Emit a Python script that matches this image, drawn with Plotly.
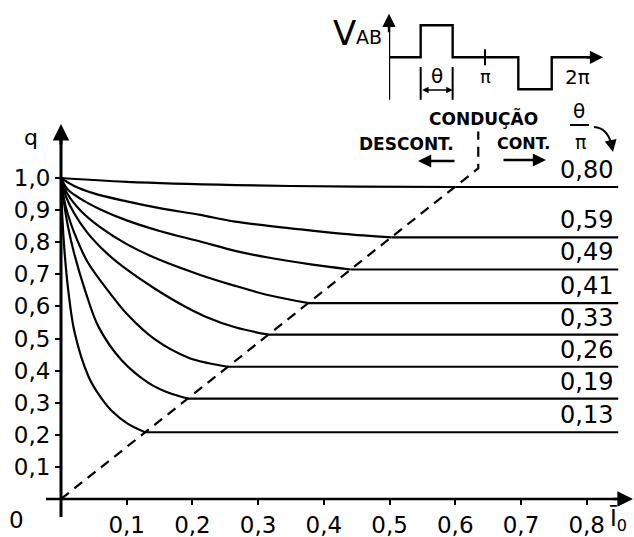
import plotly.graph_objects as go

# ---------------- data ----------------
ratio_labels = ["0,80", "0,59", "0,49", "0,41", "0,33", "0,26", "0,19", "0,13"]

I_080 = [0, 0.10, 0.265, 0.45, 0.60]
q_080 = [1.0, 0.988, 0.978, 0.973, 0.972]
I_059 = [0, 0.02, 0.05, 0.10, 0.15, 0.212, 0.265, 0.364, 0.43, 0.503]
q_059 = [1.0, 0.975, 0.952, 0.927, 0.906, 0.885, 0.864, 0.840, 0.826, 0.815]
I_049 = [0, 0.01, 0.03, 0.06, 0.10, 0.15, 0.212, 0.265, 0.313, 0.38, 0.441]
q_049 = [1.0, 0.965, 0.935, 0.902, 0.868, 0.835, 0.802, 0.773, 0.753, 0.731, 0.715]
I_041 = [0, 0.01, 0.03, 0.06, 0.10, 0.15, 0.212, 0.265, 0.32, 0.377]
q_041 = [1.0, 0.95, 0.898, 0.846, 0.794, 0.745, 0.698, 0.664, 0.633, 0.61]
I_033 = [0, 0.008, 0.02, 0.04, 0.07, 0.10, 0.143, 0.19, 0.22, 0.265, 0.316]
q_033 = [1.0, 0.94, 0.89, 0.83, 0.765, 0.715, 0.655, 0.598, 0.568, 0.535, 0.512]
I_026 = [0, 0.005, 0.01, 0.02, 0.04, 0.075, 0.10, 0.143, 0.194, 0.225, 0.254]
q_026 = [1.0, 0.93, 0.89, 0.83, 0.74, 0.64, 0.577, 0.497, 0.44, 0.423, 0.412]
I_019 = [0, 0.004, 0.01, 0.02, 0.0365, 0.057, 0.092, 0.133, 0.165, 0.193]
q_019 = [1.0, 0.93, 0.855, 0.765, 0.651, 0.537, 0.433, 0.362, 0.330, 0.313]
I_013 = [0, 0.002, 0.005, 0.011, 0.021, 0.042, 0.06, 0.077, 0.102, 0.128]
q_013 = [1.0, 0.88, 0.78, 0.651, 0.516, 0.381, 0.318, 0.275, 0.234, 0.208]

curves_I = [I_080, I_059, I_049, I_041, I_033, I_026, I_019, I_013]
curves_q = [q_080, q_059, q_049, q_041, q_033, q_026, q_019, q_013]
q_flat = [0.972, 0.815, 0.715, 0.61, 0.512, 0.412, 0.313, 0.208]
I_right = 0.848

boundary_I = [0, 0.635, 0.635]
boundary_q = [0, 1.03, 1.145]

x_ticks = [0.1, 0.2, 0.3, 0.4, 0.5, 0.6, 0.7, 0.8]
x_tick_text = ["0,1", "0,2", "0,3", "0,4", "0,5", "0,6", "0,7", "0,8"]
y_ticks = [0.1, 0.2, 0.3, 0.4, 0.5, 0.6, 0.7, 0.8, 0.9, 1.0]
y_tick_text = ["0,1", "0,2", "0,3", "0,4", "0,5", "0,6", "0,7", "0,8", "0,9", "1,0"]

# inset waveform V_AB (t in units of pi, v normalised)
wave_t = [0, 0.33, 0.33, 0.663, 0.663, 1.347, 1.347, 1.695, 1.695, 2.12]
wave_v = [0, 0, 1, 1, 0, 0, -1, -1, 0, 0]

# ---------------- layout helpers ----------------
W, H = 634, 537
ML, MB = 61, 38
PW, PH = W - ML, H - MB


def PX(px):
    return (px - ML) / PW


def PY(py):
    return (PH - py) / PH


FONT = "DejaVu Sans"
BLK = "black"
LW = 2.2

fig = go.Figure()

# curves (discontinuous conduction) and flat parts (continuous)
for Ic, qc, qf in zip(curves_I, curves_q, q_flat):
    fig.add_trace(go.Scatter(x=Ic, y=qc, mode="lines",
                             line=dict(color=BLK, width=LW, shape="spline", smoothing=1.0),
                             hoverinfo="skip", showlegend=False))
    fig.add_trace(go.Scatter(x=[Ic[-1], I_right], y=[qf, qf], mode="lines",
                             line=dict(color=BLK, width=LW),
                             hoverinfo="skip", showlegend=False))

# boundary dashed line
fig.add_trace(go.Scatter(x=boundary_I, y=boundary_q, mode="lines",
                         line=dict(color=BLK, width=2.2, dash="10px,7px"),
                         hoverinfo="skip", showlegend=False))

# inset waveform
fig.add_trace(go.Scatter(x=wave_t, y=wave_v, xaxis="x2", yaxis="y2", mode="lines",
                         line=dict(color=BLK, width=2.4), hoverinfo="skip", showlegend=False))
fig.add_trace(go.Scatter(x=[0, 0], y=[-1.33, 1.1], xaxis="x2", yaxis="y2", mode="lines",
                         line=dict(color=BLK, width=2.4), hoverinfo="skip", showlegend=False))
fig.add_trace(go.Scatter(x=[0.33, 0.33, None, 0.663, 0.663, None, 1.0, 1.0],
                         y=[-0.3, -1.33, None, -0.3, -1.33, None, 0.25, -0.25],
                         xaxis="x2", yaxis="y2", mode="lines",
                         line=dict(color=BLK, width=2), hoverinfo="skip", showlegend=False))

shapes = [
    # main axes lines
    dict(type="line", xref="paper", yref="paper", x0=0, x1=0, y0=PY(517), y1=PY(140),
         line=dict(color=BLK, width=3)),
    dict(type="line", xref="paper", yref="paper", x0=PX(46), x1=PX(620), y0=0, y1=0,
         line=dict(color=BLK, width=2.6)),
    # fraction bar theta/pi
    dict(type="line", xref="paper", yref="paper", x0=PX(570), x1=PX(589), y0=PY(125), y1=PY(125),
         line=dict(color=BLK, width=2)),
    # curved arrow stem
    dict(type="path", xref="paper", yref="paper",
         path=f"M {PX(594)},{PY(127)} Q {PX(607)},{PY(128)} {PX(611)},{PY(143)}",
         line=dict(color=BLK, width=2)),
]

ann = []


def arrow(x, y, ax, ay, xref="paper", yref="paper", w=2.6, size=1.1, side="end"):
    ann.append(dict(x=x, y=y, ax=ax, ay=ay, xref=xref, yref=yref, text="", showarrow=True,
                    arrowhead=2, arrowsize=size, arrowwidth=w, arrowcolor=BLK, standoff=0,
                    arrowside=side))


def label(px, py, text, size=22, xanchor="center", yanchor="middle", bold=False):
    ann.append(dict(x=PX(px), y=PY(py), xref="paper", yref="paper", text=text, showarrow=False,
                    xanchor=xanchor, yanchor=yanchor,
                    font=dict(family=FONT, size=size, color=BLK, weight="bold" if bold else "normal")))


# axis arrowheads
arrow(0, PY(124), 0, 22, w=3, size=1.1)
arrow(PX(634), 0, -22, 0, w=2.6, size=1.2)

# axis labels
label(31, 137, "q", 22)
label(16, 520, "0", 23)
label(618, 520, "Ī<sub>0</sub>", 23)

# curve labels on the right
for lab, qf in zip(ratio_labels, q_flat):
    ann.append(dict(x=I_right, y=qf, xref="x", yref="y", text=lab, showarrow=False,
                    xanchor="right", yanchor="bottom", xshift=-3, yshift=1,
                    font=dict(family=FONT, size=24, color=BLK)))

# conduction texts
label(484, 118, "CONDUÇÃO", 17, bold=True)
label(406, 144, "DESCONT.", 17, bold=True)
label(523, 144, "CONT.", 16, bold=True)
arrow(PX(418), PY(161), 38, 0, w=2.4, size=1.1)
arrow(PX(546), PY(160), -44, 0, w=2.4, size=1.1)

# theta / pi
label(579, 111, "θ", 20)
label(580, 142, "π", 19)
arrow(PX(613), PY(152), -2, -10, w=2, size=1.2)

# inset texts and arrows
ann.append(dict(x=0, y=1.36, xref="x2", yref="y2", ax=0, ay=20, text="", showarrow=True,
                arrowhead=2, arrowsize=1.1, arrowwidth=2.4, arrowcolor=BLK, standoff=0))
ann.append(dict(x=2.23, y=0, xref="x2", yref="y2", ax=-18, ay=0, text="", showarrow=True,
                arrowhead=2, arrowsize=1.1, arrowwidth=2.4, arrowcolor=BLK, standoff=0))
ann.append(dict(x=0.663, y=-1.02, xref="x2", yref="y2", ax=0.33, ay=-1.02, axref="x2", ayref="y2",
                text="", showarrow=True, arrowhead=2, arrowsize=0.8, arrowwidth=1.6,
                arrowcolor=BLK, standoff=0, startstandoff=0, startarrowhead=2, startarrowsize=0.8,
                arrowside="end+start"))
for t, v, txt, sz in [(0.497, -0.6, "θ", 20), (1.0, -0.6, "π", 18), (1.96, -0.62, "2π", 20)]:
    ann.append(dict(x=t, y=v, xref="x2", yref="y2", text=txt, showarrow=False,
                    font=dict(family=FONT, size=sz, color=BLK)))
# V_AB label (paper coords, left of the inset axis)
label(358, 33, "V", 34, xanchor="right")
label(384, 37, "AB", 19, xanchor="right")

fig.update_layout(
    width=W, height=H, autosize=False,
    margin=dict(l=ML, r=0, t=0, b=MB, pad=0),
    paper_bgcolor="white", plot_bgcolor="rgba(0,0,0,0)",
    showlegend=False,
    xaxis=dict(range=[0, 0.872], tickvals=x_ticks, ticktext=x_tick_text,
               ticks="outside", ticklen=5, tickwidth=2, tickcolor=BLK,
               showgrid=False, zeroline=False, showline=False,
               tickfont=dict(family=FONT, size=23, color=BLK), fixedrange=True),
    yaxis=dict(range=[0, 1.5545], tickvals=y_ticks, ticktext=y_tick_text,
               ticks="outside", ticklen=5, tickwidth=2, tickcolor=BLK,
               showgrid=False, zeroline=False, showline=False,
               tickfont=dict(family=FONT, size=23, color=BLK), fixedrange=True),
    xaxis2=dict(domain=[PX(389), PX(619.4)], range=[0, 2.4], anchor="y2", visible=False),
    yaxis2=dict(domain=[PY(105.3), PY(12.5)], range=[-1.5, 1.4], anchor="x2", visible=False),
    shapes=shapes,
    annotations=ann,
)

fig.write_html("out.html", config={"displayModeBar": False},
               post_script="document.body.style.margin='0';document.body.style.overflow='hidden';")
